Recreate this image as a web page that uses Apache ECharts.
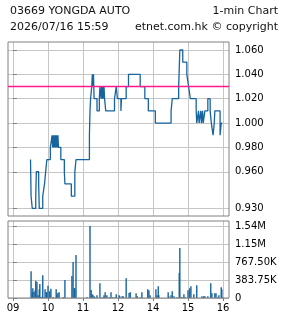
<!DOCTYPE html>
<html><head><meta charset="utf-8">
<script src="https://cdn.jsdelivr.net/npm/echarts@6/dist/echarts.min.js"></script>
<style>html,body{margin:0;padding:0;background:#fff}#c{width:285px;height:318px}</style>
</head><body><div id="c"></div>
<script>
const stockTitle = '03669 YONGDA AUTO';
const chartType = '1-min Chart';
const timestamp = '2026/07/16 15:59';
const copyright = 'etnet.com.hk \u00a9 copyright';
const prevClose = 1.03;
const hourTimes = ['09:00','10:00','11:00','12:00','14:00','15:00','16:00'];
const hourLabels = ['09','10','11','12','14','15','16'];
const priceTicks = [0.93, 0.96, 0.98, 1.00, 1.02, 1.04, 1.06];
const volumeTicks = [0, 383750, 767500, 1151250, 1535000];

// [time, price] at each price change (step chart)
const priceSteps = [
 ['09:30',0.97],['09:31',0.94],['09:33',0.93],['09:39',0.94],['09:40',0.96],['09:44',0.95],['09:45',0.93],
 ['09:51',0.94],['09:54',0.95],['09:56',0.96],['09:58',0.97],['10:04',0.98],['10:07',0.99],['10:08',0.98],
 ['10:09',0.99],['10:10',0.98],['10:11',0.99],['10:12',0.98],['10:13',0.99],['10:14',0.98],['10:15',0.99],
 ['10:16',0.98],['10:17',0.99],['10:18',0.98],['10:22',0.97],['10:28',0.96],['10:29',0.95],['10:40',0.94],
 ['10:46',0.96],['10:48',0.97],['11:11',0.99],['11:12',1.01],['11:13',1.02],['11:15',1.03],['11:16',1.04],
 ['11:17',1.03],['11:18',1.04],['11:19',1.02],['11:24',1.01],['11:28',1.02],['11:29',1.03],['11:31',1.02],
 ['11:32',1.03],['11:33',1.02],['11:34',1.03],['11:35',1.02],['11:36',1.03],['11:37',1.02],['11:39',1.01],
 ['11:54',1.02],['11:57',1.03],['11:59',1.02],['13:05',1.01],['13:06',1.02],['13:14',1.03],['13:18',1.04],
 ['13:38',1.03],['13:46',1.02],['13:52',1.01],['14:04',1.00],['14:31',1.01],['14:33',1.02],['14:44',1.03],
 ['14:46',1.06],['14:51',1.05],['14:58',1.04],['15:01',1.03],['15:04',1.02],['15:14',1.01],['15:15',1.00],
 ['15:18',1.01],['15:19',1.00],['15:22',1.01],['15:23',1.00],['15:25',1.01],['15:26',1.00],['15:29',1.01],
 ['15:34',1.02],['15:38',1.01],['15:40',1.00],['15:43',0.99],['15:45',1.00],['15:46',1.01],['15:55',0.99],
 ['15:57',1.00],['15:59',1.00]
];

// [time, volume]
const volumeBars = [
 ['09:31',568000],['09:33',128000],['09:34',206000],['09:36',128000],['09:38',163000],['09:39',370000],
 ['09:41',341000],['09:43',57000],['09:45',185000],['09:46',298000],['09:48',14000],['09:50',28000],
 ['09:51',483000],['09:53',14000],['09:55',185000],['09:57',128000],['09:58',114000],['10:00',263000],
 ['10:02',14000],['10:03',142000],['10:05',199000],['10:09',14000],['10:10',7000],['10:14',185000],
 ['10:15',71000],['10:17',107000],['10:19',121000],['10:26',14000],['10:27',7000],['10:29',384000],
 ['10:41',469000],['10:43',767000],['10:45',213000],['10:46',199000],['10:48',917000],['11:07',14000],
 ['11:12',1535000],['11:14',171000],['11:15',85000],['11:17',71000],['11:19',36000],['11:20',14000],
 ['11:22',7000],['11:24',57000],['11:29',313000],['11:33',14000],['11:36',57000],['11:38',121000],
 ['11:41',57000],['11:45',14000],['11:48',121000],['11:51',14000],['11:55',14000],['11:57',78000],
 ['13:02',57000],['13:03',36000],['13:07',36000],['13:09',36000],['13:14',419000],['13:19',107000],
 ['13:21',121000],['13:31',100000],['13:33',36000],['13:39',14000],['13:41',121000],['13:51',185000],
 ['13:53',163000],['13:55',57000],['14:05',185000],['14:07',57000],['14:09',249000],['14:10',57000],
 ['14:26',121000],['14:27',36000],['14:31',57000],['14:33',142000],['14:36',36000],['14:41',14000],
 ['14:45',533000],['14:46',1066000],['14:48',14000],['14:50',14000],['14:53',78000],['14:55',14000],
 ['15:00',163000],['15:03',206000],['15:05',249000],['15:10',78000],['15:15',270000],['15:24',36000],
 ['15:26',14000],['15:27',36000],['15:29',36000],['15:34',36000],['15:39',313000],['15:41',100000],
 ['15:46',100000],['15:48',100000],['15:51',14000],['15:53',57000],['15:57',227000],['15:58',185000],
 ['15:59',14000]
];

// trading-minute index from 09:00, lunch break removed
function idx(t) {
  const p = t.split(':').map(Number);
  return p[0] <= 12 ? (p[0] - 9) * 60 + p[1] : (p[0] - 10) * 60 + p[1];
}
const hourTicks = hourTimes.map(idx);
const xMin = -60 * 5 / 35, xMax = 60 * 216 / 35;

const LINE = '#17649f', GRID = '#c6c6c6', BOX = '#808080';
const font = 'DejaVu Sans';
function volFmt(v) {
  if (v >= 1e6) return (Math.round(v / 1e4) / 100).toFixed(2) + 'M';
  if (v >= 1e3) return (Math.round(v / 10) / 100).toFixed(2) + 'K';
  return String(v);
}
const priceData = priceSteps.map(d => [idx(d[0]), d[1]]);
const volumeData = volumeBars.map(d => [idx(d[0]), d[1]]);

const grids = [
  { left: 8, top: 42, width: 221, height: 174, show: true, borderColor: BOX, borderWidth: 1, z: 5 },
  { left: 8, top: 221, width: 221, height: 77, show: true, borderColor: BOX, borderWidth: 1, z: 5 }
];
const xAxes = [
  { gridIndex: 0, type: 'value', min: xMin, max: xMax,
    axisLine: { show: false }, axisTick: { show: false },
    axisLabel: { show: false }, splitLine: { show: false } },
  { gridIndex: 1, type: 'value', min: xMin, max: xMax,
    axisLine: { show: false },
    axisTick: { show: true, length: 3, customValues: hourTicks, lineStyle: { color: BOX } },
    axisLabel: { customValues: hourTicks, margin: 5, fontSize: 10, color: '#000',
      formatter: v => hourLabels[hourTicks.indexOf(v)] },
    splitLine: { show: false } }
];
const yAxes = [
  { gridIndex: 0, type: 'value', position: 'right', min: 0.92368, max: 1.06657,
    axisLine: { show: false },
    axisTick: { show: true, length: 4, customValues: priceTicks, lineStyle: { color: BOX } },
    axisLabel: { customValues: priceTicks, margin: 6, fontSize: 10, color: '#000',
      formatter: v => v.toFixed(3) },
    splitLine: { show: false } },
  { gridIndex: 1, type: 'value', position: 'right', min: 0, max: 1641600,
    axisLine: { show: false },
    axisTick: { show: true, length: 4, customValues: volumeTicks, lineStyle: { color: BOX } },
    axisLabel: { customValues: volumeTicks, margin: 6, fontSize: 10, color: '#000', formatter: volFmt },
    splitLine: { show: false } }
];

const chart = echarts.init(document.getElementById('c'), null, { renderer: 'canvas' });
chart.setOption({
  animation: false,
  textStyle: { fontFamily: font },
  graphic: [
    { type: 'text', left: 10, top: 6, style: { text: stockTitle, font: '11px ' + font, fill: '#111' } },
    { type: 'text', right: 7, top: 6, style: { text: chartType, font: '11px ' + font, fill: '#111' } },
    { type: 'text', left: 10, top: 22, style: { text: timestamp, font: '11px ' + font, fill: '#111' } },
    { type: 'text', right: 7, top: 22, style: { text: copyright, font: '11px ' + font, fill: '#111' } }
  ],
  grid: grids, xAxis: xAxes, yAxis: yAxes,
  series: [
    { type: 'bar', xAxisIndex: 1, yAxisIndex: 1, barWidth: 1.4, z: 3,
      data: volumeData, itemStyle: { color: LINE } },
    { type: 'line', xAxisIndex: 0, yAxisIndex: 0, step: 'end', showSymbol: false, z: 4,
      data: priceData,
      lineStyle: { color: LINE, width: 1.3 },
      markLine: { silent: true, symbol: 'none', label: { show: false },
        lineStyle: { color: '#ff1a8c', width: 1.3, type: 'solid' },
        data: [{ yAxis: prevClose }] } }
  ]
});

// Grid lines: overlay grids whose own axes span exactly the tick range, using plain split lines.
const px = v => chart.convertToPixel({ xAxisIndex: 0 }, v);
const pyP = v => chart.convertToPixel({ yAxisIndex: 0 }, v);
const pyV = v => chart.convertToPixel({ yAxisIndex: 1 }, v);
const splitStyle = { show: true, lineStyle: { color: GRID, width: 1, type: 'solid' } };
const hidden = { axisLine: { show: false }, axisTick: { show: false }, axisLabel: { show: false } };
function addOverlay(rect, xr, yr) {
  const gi = grids.length;
  grids.push(Object.assign({ show: false }, rect));
  xAxes.push(Object.assign({ gridIndex: gi, type: 'value', min: xr ? xr[0] : 0, max: xr ? xr[1] : 1,
    interval: xr ? xr[2] : 1, splitLine: xr ? splitStyle : { show: false } }, hidden));
  yAxes.push(Object.assign({ gridIndex: gi, type: 'value', min: yr ? yr[0] : 0, max: yr ? yr[1] : 1,
    interval: yr ? yr[2] : 1, splitLine: yr ? splitStyle : { show: false } }, hidden));
}
const h0 = hourTicks[0], h1 = hourTicks[hourTicks.length - 1], hStep = hourTicks[1] - hourTicks[0];
const xl = px(h0), xw = px(h1) - px(h0);
// price panel verticals
addOverlay({ left: xl, width: xw, top: 42, height: 174 }, [h0, h1, hStep], null);
// price panel horizontals 0.96 .. 1.06 every 0.02
addOverlay({ left: 8, width: 221, top: pyP(1.06), height: pyP(0.96) - pyP(1.06) }, null, [0.96, 1.06, 0.02]);
// price panel horizontals 0.93 and 0.96
addOverlay({ left: 8, width: 221, top: pyP(0.96), height: pyP(0.93) - pyP(0.96) }, null, [0.93, 0.96, 0.03]);
// volume panel verticals
addOverlay({ left: xl, width: xw, top: 221, height: 77 }, [h0, h1, hStep], null);
// volume panel horizontals
const vTop = volumeTicks[volumeTicks.length - 1], vStep = volumeTicks[1];
addOverlay({ left: 8, width: 221, top: pyV(vTop), height: pyV(0) - pyV(vTop) }, null, [0, vTop, vStep]);

chart.setOption({ grid: grids, xAxis: xAxes, yAxis: yAxes });
</script>
</body></html>
